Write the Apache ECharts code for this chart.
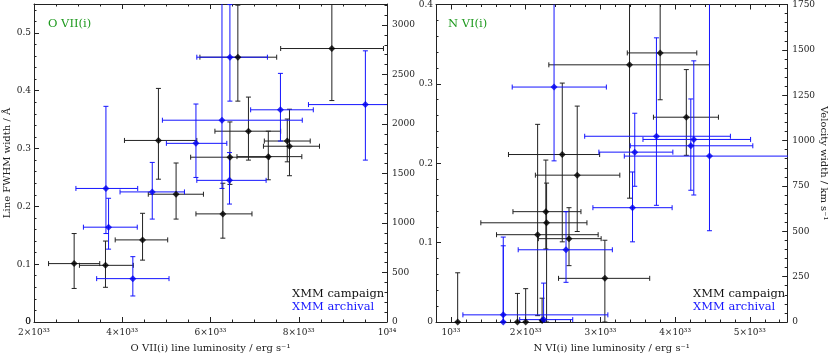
<!DOCTYPE html>
<html>
<head>
<meta charset="utf-8">
<script src="https://cdn.jsdelivr.net/npm/echarts@6/dist/echarts.min.js"></script>
<style>
  html, body { margin: 0; padding: 0; background: #fff; }
  #main { width: 830px; height: 361px; }
</style>
</head>
<body>
<div id="main"></div>
<script>
// each row: [luminosity (1e33 erg/s), lum low, lum high, FWHM (A), FWHM low, FWHM high]
const oviiCampaign = [
  [2.91, 2.33, 3.49, 0.101, 0.058, 0.153],
  [3.62, 3.03, 4.25, 0.098, 0.060, 0.140],
  [4.46, 3.84, 5.03, 0.142, 0.107, 0.188],
  [5.22, 4.59, 5.84, 0.221, 0.178, 0.275],
  [4.82, 4.05, 5.69, 0.314, 0.247, 0.404],
  [6.62, 5.76, 7.50, 0.458, 0.382, 0.548],
  [6.86, 6.10, 7.59, 0.330, 0.280, 0.389],
  [6.44, 5.55, 7.33, 0.285, 0.238, 0.346],
  [7.31, 6.60, 8.07, 0.286, 0.246, 0.330],
  [7.74, 7.22, 8.26, 0.313, 0.277, 0.351],
  [7.79, 7.20, 8.47, 0.304, 0.253, 0.368],
  [6.28, 5.67, 6.94, 0.187, 0.145, 0.240],
  [8.75, 7.59, 9.92, 0.473, 0.383, 0.600]
];
const oviiArchival = [
  [3.63, 2.95, 4.35, 0.231, 0.153, 0.373],
  [3.69, 3.12, 4.34, 0.164, 0.126, 0.214],
  [4.24, 3.42, 5.06, 0.075, 0.045, 0.113],
  [4.68, 3.95, 5.41, 0.225, 0.178, 0.276],
  [5.67, 5.00, 6.37, 0.309, 0.250, 0.377],
  [6.26, 4.91, 8.08, 0.349, 0.231, 0.600],
  [6.44, 5.69, 7.29, 0.458, 0.382, 0.549],
  [7.585, 6.91, 8.33, 0.367, 0.313, 0.430],
  [6.43, 5.69, 7.26, 0.245, 0.204, 0.293],
  [9.51, 8.22, 10.8, 0.376, 0.280, 0.469]
];
const nviCampaign = [
  [1.09, 1.09, 1.09, 0.000, 0.000, 0.062],
  [1.89, 1.89, 1.89, 0.000, 0.000, 0.036],
  [2.00, 2.00, 2.00, 0.000, 0.000, 0.042],
  [2.22, 2.22, 2.22, 0.002, 0.000, 0.030],
  [2.16, 1.61, 2.97, 0.110, 0.008, 0.249],
  [2.27, 1.83, 2.74, 0.139, 0.092, 0.204],
  [2.28, 1.40, 2.82, 0.125, 0.000, 0.175],
  [2.49, 1.77, 2.99, 0.211, 0.101, 0.301],
  [2.69, 2.13, 3.26, 0.185, 0.114, 0.272],
  [2.58, 2.17, 3.01, 0.105, 0.071, 0.144],
  [3.06, 2.44, 3.66, 0.055, 0.000, 0.103],
  [3.80, 3.36, 4.29, 0.339, 0.280, 0.450],
  [3.39, 2.31, 4.46, 0.324, 0.156, 0.450],
  [4.15, 3.71, 4.58, 0.258, 0.210, 0.318]
];
const nviArchival = [
  [2.38, 1.82, 3.08, 0.296, 0.203, 0.450],
  [1.70, 1.16, 3.10, 0.009, 0.000, 0.107],
  [1.70, 1.70, 1.70, 0.000, 0.000, 0.096],
  [2.24, 1.92, 2.63, 0.003, 0.000, 0.049],
  [2.54, 1.90, 3.16, 0.091, 0.050, 0.139],
  [3.75, 2.79, 4.74, 0.234, 0.147, 0.358],
  [4.25, 3.57, 5.01, 0.230, 0.160, 0.329],
  [4.21, 3.40, 5.04, 0.222, 0.166, 0.281],
  [3.46, 2.98, 3.97, 0.214, 0.171, 0.263],
  [4.46, 3.32, 6.00, 0.209, 0.115, 0.450],
  [3.43, 2.90, 3.96, 0.144, 0.101, 0.189]
];

const oTickValues = [2, 4, 6, 8, 10];
const oTickLabels = ['2×10³³', '4×10³³', '6×10³³', '8×10³³', '10³⁴'];
const nTickValues = [1, 2, 3, 4, 5];
const nTickLabels = ['10³³', '2×10³³', '3×10³³', '4×10³³', '5×10³³'];

// FWHM in A -> velocity width (sigma) in km/s
const C_KMS = 299792.458;
const kO = C_KMS / 21.80 / 2.3548;
const kN = C_KMS / 29.08 / 2.3548;
const oWidthMax = 0.55;
const nWidthMax = 0.4;

const FONT = 'DejaVu Serif';
const INK = '#222';
const BLACK = '#111';
const BLUE = '#1414ff';
const GREEN = '#1f9a1f';

function lineStyle(show) {
  return { show: show, onZero: false, lineStyle: { color: INK, width: 1 } };
}
function ticks(len, extra) {
  return Object.assign({ show: true, inside: true, length: len, lineStyle: { color: INK, width: 1 } }, extra || {});
}
function labels(extra) {
  return Object.assign({ color: INK, fontFamily: FONT, fontSize: 9, lineHeight: 9, hideOverlap: false, showMinLabel: true }, extra || {});
}
const noLabel = { show: false };
const nameStyle = { color: INK, fontFamily: FONT, fontSize: 10 };
// label only the multiples of the step (the axis end may fall between them)
const stepLabel = step => v => {
  const n = v / step;
  return Math.abs(n - Math.round(n)) < 1e-6 ? String(Math.round(n * step * 1000) / 1000) : '';
};

function fromList(values, texts) {
  return function (v) {
    const i = values.findIndex(t => Math.abs(t - v) < 1e-6);
    return i < 0 ? '' : texts[i];
  };
}

function errorBars(color) {
  return function (params, api) {
    const x = api.value(0), xl = api.value(1), xh = api.value(2);
    const y = api.value(3), yl = api.value(4), yh = api.value(5);
    const cap = 2.5;
    const kids = [];
    const seg = (a, b) => kids.push({
      type: 'line',
      shape: { x1: a[0], y1: a[1], x2: b[0], y2: b[1] },
      style: { stroke: color, lineWidth: 1 }
    });
    if (xh > xl) {
      const p1 = api.coord([xl, y]), p2 = api.coord([xh, y]);
      seg(p1, p2);
      seg([p1[0], p1[1] - cap], [p1[0], p1[1] + cap]);
      seg([p2[0], p2[1] - cap], [p2[0], p2[1] + cap]);
    }
    if (yh > yl) {
      const q1 = api.coord([x, yl]), q2 = api.coord([x, yh]);
      seg(q1, q2);
      seg([q1[0] - cap, q1[1]], [q1[0] + cap, q1[1]]);
      seg([q2[0] - cap, q2[1]], [q2[0] + cap, q2[1]]);
    }
    return { type: 'group', children: kids };
  };
}

function errSeries(name, data, color, xi, yi) {
  return {
    type: 'custom', name: name, xAxisIndex: xi, yAxisIndex: yi, clip: true,
    renderItem: errorBars(color), encode: { x: [0, 1, 2], y: [3, 4, 5] },
    data: data, z: 2, silent: true
  };
}
function pointSeries(name, data, color, xi, yi) {
  return {
    type: 'scatter', name: name, xAxisIndex: xi, yAxisIndex: yi, clip: true,
    symbol: 'diamond', symbolSize: 7, itemStyle: { color: color },
    encode: { x: 0, y: 3 }, data: data, z: 3, silent: true
  };
}

const chart = echarts.init(document.getElementById('main'));
chart.setOption({
  animation: false,
  backgroundColor: '#fff',
  textStyle: { fontFamily: FONT },
  title: [
    { text: 'O VII(i)', left: 43, top: 13, textStyle: { color: GREEN, fontFamily: FONT, fontSize: 11.5, fontWeight: 'normal' } },
    { text: 'N VI(i)', left: 443, top: 13, textStyle: { color: GREEN, fontFamily: FONT, fontSize: 11.5, fontWeight: 'normal' } }
  ],
  legend: [
    {
      left: 282, top: 282, orient: 'vertical', icon: 'none', itemWidth: 0, itemHeight: 14, itemGap: 0,
      selectedMode: false, textStyle: { fontFamily: FONT, fontSize: 11.5 },
      data: [{ name: 'XMM campaign', textStyle: { color: BLACK } }, { name: 'XMM archival', textStyle: { color: BLUE } }]
    },
    {
      left: 683, top: 282, orient: 'vertical', icon: 'none', itemWidth: 0, itemHeight: 14, itemGap: 0,
      selectedMode: false, textStyle: { fontFamily: FONT, fontSize: 11.5 },
      data: [{ name: 'XMM campaign', textStyle: { color: BLACK } }, { name: 'XMM archival', textStyle: { color: BLUE } }]
    }
  ],
  grid: [
    { left: 34, top: 4, width: 353, height: 318 },
    { left: 436, top: 4, width: 352, height: 318 }
  ],
  xAxis: [
    // O VII panel
    {
      type: 'value', gridIndex: 0, position: 'bottom', min: 2, max: 10, interval: 2,
      axisLine: lineStyle(true), axisTick: ticks(5), minorTick: { show: true, splitNumber: 4, length: 2.5, lineStyle: { color: INK } },
      axisLabel: labels({ margin: 6, formatter: fromList(oTickValues, oTickLabels) }), splitLine: { show: false },
      name: 'O VII(i) line luminosity / erg s⁻¹', nameLocation: 'middle', nameGap: 21, nameTextStyle: nameStyle
    },
    {
      type: 'value', gridIndex: 0, position: 'top', min: 2, max: 10, interval: 2,
      axisLine: lineStyle(true), axisTick: ticks(5), minorTick: { show: true, splitNumber: 4, length: 2.5, lineStyle: { color: INK } },
      axisLabel: noLabel, splitLine: { show: false }
    },
    // N VI panel
    {
      type: 'value', gridIndex: 1, position: 'bottom', min: 0.8, max: 5.5,
      axisLine: lineStyle(true), axisTick: ticks(5, { customValues: nTickValues }),
      axisLabel: labels({ margin: 6, customValues: nTickValues, formatter: fromList(nTickValues, nTickLabels) }),
      splitLine: { show: false },
      name: 'N VI(i) line luminosity / erg s⁻¹', nameLocation: 'middle', nameGap: 21, nameTextStyle: nameStyle
    },
    {
      type: 'value', gridIndex: 1, position: 'top', min: 0.8, max: 5.5,
      axisLine: lineStyle(true), axisTick: ticks(5, { customValues: nTickValues }),
      axisLabel: noLabel, splitLine: { show: false }
    },
    {
      type: 'value', gridIndex: 1, position: 'bottom', min: 0.8, max: 5.5, interval: 0.2,
      axisLine: lineStyle(false), axisTick: ticks(2.5), axisLabel: noLabel, splitLine: { show: false }
    },
    {
      type: 'value', gridIndex: 1, position: 'top', min: 0.8, max: 5.5, interval: 0.2,
      axisLine: lineStyle(false), axisTick: ticks(2.5), axisLabel: noLabel, splitLine: { show: false }
    }
  ],
  yAxis: [
    // O VII panel, FWHM
    {
      type: 'value', gridIndex: 0, position: 'left', min: 0, max: oWidthMax, interval: 0.1,
      axisLine: lineStyle(true), axisTick: ticks(5), axisLabel: labels({ margin: 3, formatter: stepLabel(0.1) }),
      splitLine: { show: false },
      name: 'Line FWHM width / Å', nameLocation: 'middle', nameGap: 21, nameTextStyle: nameStyle
    },
    {
      // minor ticks; also carries the "0" label at the corner
      type: 'value', gridIndex: 0, position: 'left', min: 0, max: oWidthMax, interval: 0.02,
      axisLine: lineStyle(false), axisTick: ticks(2.5),
      axisLabel: labels({ margin: 3, customValues: [0], formatter: stepLabel(0.1) }), splitLine: { show: false }
    },
    // O VII panel, velocity
    {
      type: 'value', gridIndex: 0, position: 'right', min: 0, max: oWidthMax * kO, interval: 500,
      axisLine: lineStyle(true), axisTick: ticks(5), axisLabel: labels({ margin: 5, formatter: stepLabel(500) }),
      splitLine: { show: false }
    },
    {
      type: 'value', gridIndex: 0, position: 'right', min: 0, max: oWidthMax * kO, interval: 100,
      axisLine: lineStyle(false), axisTick: ticks(2.5), axisLabel: noLabel, splitLine: { show: false }
    },
    // N VI panel, FWHM
    {
      type: 'value', gridIndex: 1, position: 'left', min: 0, max: nWidthMax, interval: 0.1,
      axisLine: lineStyle(true), axisTick: ticks(5),
      minorTick: { show: true, splitNumber: 5, length: 2.5, lineStyle: { color: INK } },
      axisLabel: labels({ margin: 3, formatter: stepLabel(0.1) }), splitLine: { show: false }
    },
    // N VI panel, velocity
    {
      type: 'value', gridIndex: 1, position: 'right', min: 0, max: Math.round(nWidthMax * kN / 10) * 10, interval: 250,
      axisLine: lineStyle(true), axisTick: ticks(5),
      minorTick: { show: true, splitNumber: 5, length: 2.5, lineStyle: { color: INK } },
      axisLabel: labels({ margin: 5, formatter: stepLabel(250) }), splitLine: { show: false },
      name: 'Velocity width / km s⁻¹', nameLocation: 'middle', nameGap: 31, nameRotate: -90, nameTextStyle: nameStyle
    }
  ],
  series: [
    errSeries('XMM campaign', oviiCampaign, '#222', 0, 0),
    errSeries('XMM archival', oviiArchival, BLUE, 0, 0),
    pointSeries('XMM campaign', oviiCampaign, '#000', 0, 0),
    pointSeries('XMM archival', oviiArchival, '#0000ee', 0, 0),
    errSeries('XMM campaign', nviCampaign, '#222', 2, 4),
    errSeries('XMM archival', nviArchival, BLUE, 2, 4),
    pointSeries('XMM campaign', nviCampaign, '#000', 2, 4),
    pointSeries('XMM archival', nviArchival, '#0000ee', 2, 4)
  ]
});
</script>
</body>
</html>
